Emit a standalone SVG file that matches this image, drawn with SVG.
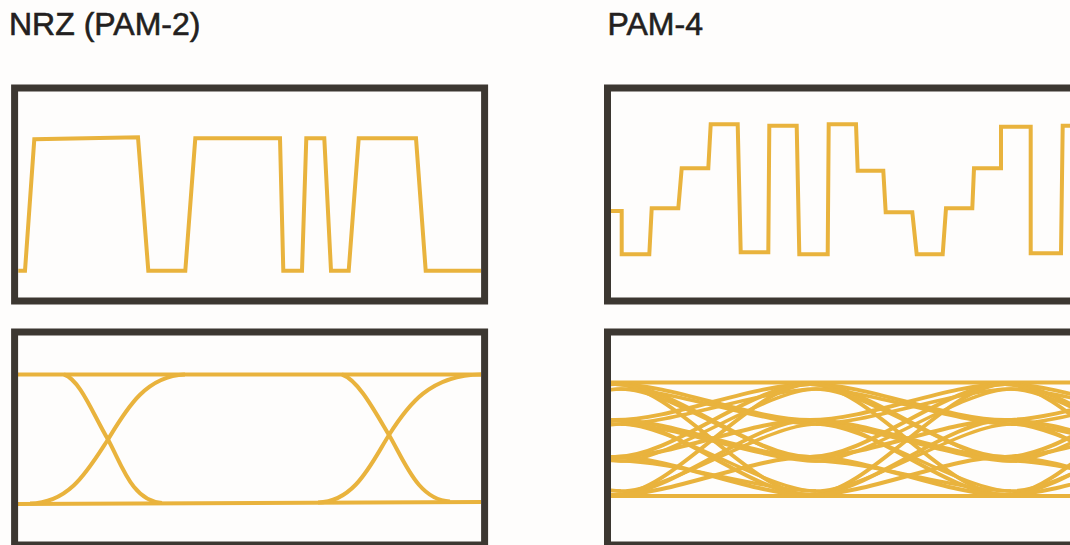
<svg xmlns="http://www.w3.org/2000/svg" width="1070" height="545" viewBox="0 0 1070 545">
<style>
.title{font-family:"Liberation Sans",Arial,sans-serif;font-size:32px;fill:#231f20;stroke:#231f20;stroke-width:0.6}
.box{fill:none;stroke:#3c3731;stroke-width:7}
.wave{fill:none;stroke:#e9b33d;stroke-width:4;stroke-linejoin:miter;stroke-miterlimit:10}
.eye{fill:none;stroke:#e9b33d;stroke-width:4}
.eye2{fill:none;stroke:#e9b33d;stroke-width:3.4}
</style>
<defs>
<clipPath id="clipE"><rect x="611" y="336" width="460" height="206"/></clipPath>
<g id="t1" class="eye">
<path d="M0,384 C58,384 137,420 195,420"/>
<path d="M0,384 C58,384 137,457 195,457"/>
<path d="M0,384 C58,384 137,495 195,495"/>
<path d="M0,420 C58,420 137,384 195,384"/>
<path d="M0,420 C58,420 137,457 195,457"/>
<path d="M0,420 C58,420 137,495 195,495"/>
<path d="M0,457 C58,457 137,384 195,384"/>
<path d="M0,457 C58,457 137,420 195,420"/>
<path d="M0,457 C58,457 137,495 195,495"/>
<path d="M0,495 C58,495 137,384 195,384"/>
<path d="M0,495 C58,495 137,420 195,420"/>
<path d="M0,495 C58,495 137,457 195,457"/>
</g>
<g id="t2" class="eye2">
<path d="M0,389 C50,389 145,424 195,424"/>
<path d="M0,389 C50,389 145,461 195,461"/>
<path d="M0,424 C50,424 145,389 195,389"/>
<path d="M0,424 C50,424 145,491 195,491"/>
<path d="M0,461 C50,461 145,389 195,389"/>
<path d="M0,461 C50,461 145,491 195,491"/>
<path d="M0,491 C50,491 145,424 195,424"/>
<path d="M0,424 C50,424 145,461 195,461"/>
</g>
</defs>
<rect x="0" y="0" width="1070" height="545" fill="#fefdfc"/>

<g id="title-nrz"><text class="title" x="9" y="35">NRZ (PAM-2)</text></g>
<g id="title-pam4"><text class="title" x="607.5" y="35">PAM-4</text></g>

<g id="nrz-wave">
<polyline class="wave" points="18.3,270.7 25,270.7 34.3,139.3 138,137.3 148.3,270.7 185.3,270.7 195.3,138.3 280,138.3 283.3,270.7 302,270.7 306.3,138.3 324.3,138.3 331,270.7 348.7,270.7 358.7,138.3 416,138.3 425.7,270.7 481,270.7"/>
<rect class="box" x="14.6" y="88" width="470" height="213"/>
</g>

<g id="pam4-wave">
<polyline class="wave" points="611,211 621.7,211 621.7,254.3 649.3,254.3 651.7,208.3 678.3,208.3 681.7,168.3 708.3,168.3 710.7,124.3 737.7,124.3 740.7,252.3 768.3,252.3 769.3,125.7 796.7,125.7 799.3,254.3 827.7,254.3 828.7,124.3 856,124.3 857.7,170.7 883.3,170.7 885.7,212.3 912.3,212.3 916.7,254.3 942.7,254.3 946,208.3 972.3,208.3 974,168.3 1001,168.3 1001,126.7 1030.7,126.7 1030.7,253.3 1061,253.3 1062.7,125.7 1075,125.7"/>
<rect class="box" x="607.5" y="88" width="470" height="213"/>
</g>

<g id="nrz-eye">
<path class="eye" d="M18,374.5 L481,374.5"/>
<path class="eye" stroke-width="4.5" d="M18,504 L481,502"/>
<path class="eye" d="M64,374.5 C80,380 92,412 108,439.5 C122,465 132,501 162,503"/>
<path class="eye" d="M30,503.5 C70,503 88,470 108,439.5 C126,410 145,376 185,374.5"/>
<path class="eye" d="M342,374.5 C358,380 374,410 389,435 C405,462 418,500 450,501.5"/>
<path class="eye" d="M318,502.5 C355,502 372,462 389,435 C408,405 430,375 481,374.5"/>
<rect class="box" x="14.6" y="332" width="470" height="213"/>
</g>

<g id="pam4-eye">
<g clip-path="url(#clipE)">
<path class="eye" stroke-width="5" d="M611,382.5 L1075,382.5"/>
<path class="eye" stroke-width="8" d="M611,496 L1075,496"/>
<use href="#t1" x="420"/>
<use href="#t1" x="615"/>
<use href="#t1" x="810"/>
<use href="#t1" x="1005"/>
<use href="#t2" x="426"/>
<use href="#t2" x="621"/>
<use href="#t2" x="816"/>
<use href="#t2" x="1011"/>
</g>
<rect class="box" x="607.5" y="332" width="470" height="213"/>
</g>
</svg>
